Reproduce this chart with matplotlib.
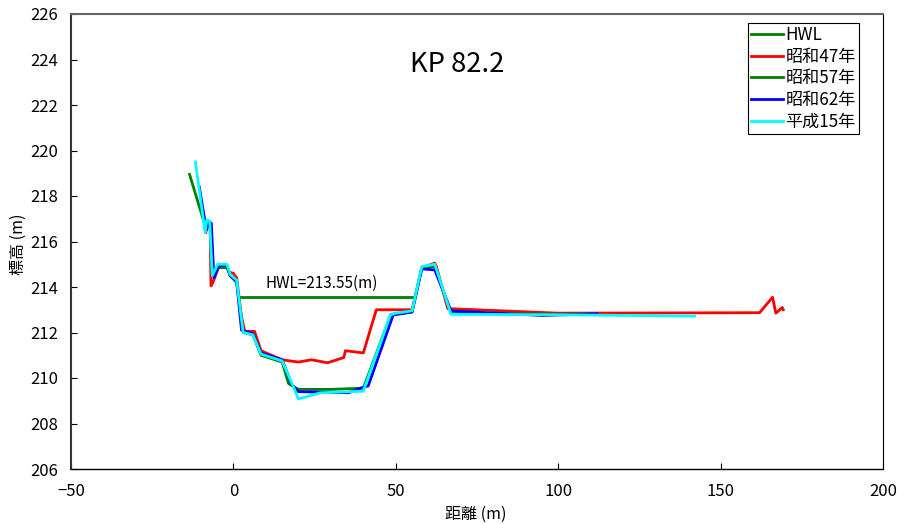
import matplotlib
matplotlib.use("Agg")
import matplotlib.pyplot as plt

plt.rcParams['font.family'] = ['Noto Sans CJK JP', 'DejaVu Sans']

# 横断データ
hwl_x = [2, 55]
hwl_y = [213.55, 213.55]

s47_x = [-8.5, -8.3, -7.2, -6.9, -6.3, -4.5, -2.0, -1.2, 0, 1, 2.5, 3.5, 6.5, 8.5, 15, 20, 24, 29, 34, 34.5, 40, 44, 55, 58, 62, 62.5, 66, 100, 162, 166, 167, 169, 169.3]
s47_y = [216.4, 216.9, 216.85, 214.05, 214.2, 214.9, 214.9, 214.65, 214.6, 214.4, 212.7, 212.05, 212.05, 211.2, 210.8, 210.7, 210.8, 210.67, 210.9, 211.2, 211.1, 213.0, 213.0, 214.85, 215.05, 214.9, 213.05, 212.85, 212.87, 213.55, 212.85, 213.1, 213.0]

s57_x = [-13.5, -8.5, -7.5, -7.0, -6.5, -4.5, -2, -1, 1, 3, 6, 8.5, 15, 17, 20, 30, 40, 48.5, 55, 58, 62, 67, 100, 110]
s57_y = [218.95, 216.6, 216.8, 216.8, 214.5, 214.85, 214.85, 214.5, 214.2, 212.0, 211.9, 211.0, 210.7, 209.75, 209.5, 209.5, 209.55, 212.8, 212.9, 214.85, 214.9, 212.85, 212.8, 212.82]

s62_x = [-10.5, -8.3, -7.5, -6.8, -6, -4.5, -2, -1, 1, 2.5, 6, 8.5, 15, 18, 20, 35.5, 40, 41.5, 49.2, 55, 58, 62, 67, 95, 112]
s62_y = [218.4, 216.5, 216.85, 216.8, 214.4, 214.95, 214.95, 214.5, 214.25, 212.1, 211.95, 211.1, 210.8, 209.7, 209.4, 209.35, 209.6, 209.65, 212.77, 212.9, 214.8, 214.75, 212.95, 212.75, 212.82]

h15_x = [-11.7, -8.7, -8.2, -7.3, -6.5, -4.8, -2, -1, 1, 3, 6, 8.5, 15, 18.2, 20, 26.8, 40, 48.3, 50, 55, 58, 62, 67, 100, 142]
h15_y = [219.5, 216.4, 216.95, 216.9, 214.5, 215.0, 215.0, 214.55, 214.3, 212.0, 211.9, 211.05, 210.75, 209.7, 209.08, 209.35, 209.42, 212.77, 212.85, 212.95, 214.9, 215.0, 212.8, 212.78, 212.72]

x_ticks = [-50, 0, 50, 100, 150, 200]
y_ticks = [206, 208, 210, 212, 214, 216, 218, 220, 222, 224, 226]

fig = plt.figure(figsize=(8.98, 5.24), dpi=100)
ax = fig.add_axes([71 / 898, 1 - 469 / 524, (883 - 71) / 898, (469 - 14) / 524])

ax.plot(hwl_x, hwl_y, color='#008000', lw=2.0, label='HWL')
ax.plot(s47_x, s47_y, color='#ff0000', lw=2.0, label='昭和47年')
ax.plot(s57_x, s57_y, color='#008000', lw=2.0, label='昭和57年')
ax.plot(s62_x, s62_y, color='#0000ff', lw=2.0, label='昭和62年')
ax.plot(h15_x, h15_y, color='#00ffff', lw=2.0, label='平成15年')

ax.set_xlim(-50, 200)
ax.set_ylim(206, 226)
ax.set_xticks(x_ticks)
ax.set_yticks(y_ticks)
ax.tick_params(axis='both', labelsize=12, direction='in', length=4, width=0.8)
ax.tick_params(axis='y', pad=9)
ax.tick_params(axis='x', pad=10)
ax.set_xlabel('距離 (m)', fontsize=11.5)
ax.set_ylabel('標高 (m)', fontsize=11.5)
ax.xaxis.set_label_coords(0.499, -0.1)
ax.yaxis.set_label_coords(-0.0653, 0.495)
ax.xaxis.label.set_va('center')
ax.yaxis.label.set_va('center')

ax.spines['top'].set_color('#666666')
ax.spines['top'].set_linewidth(1.5)
ax.spines['left'].set_color('#333333')
ax.spines['left'].set_linewidth(1.5)
ax.spines['bottom'].set_linewidth(1.0)

ax.text(69, 223.8, 'KP 82.2', fontsize=19.7, ha='center', va='center')
ax.text(10, 214.15, 'HWL=213.55(m)', fontsize=11, va='center')

leg = ax.legend(loc='upper right', bbox_to_anchor=(859 / 898, 1 - 22.5 / 524), bbox_transform=fig.transFigure,
                fontsize=12.3, frameon=True, fancybox=False, framealpha=1, edgecolor='black',
                borderaxespad=0, borderpad=0.2, labelspacing=0.22, handlelength=1.85, handletextpad=0.15)
leg.get_frame().set_linewidth(0.8)

fig.savefig('out.png', dpi=100)
